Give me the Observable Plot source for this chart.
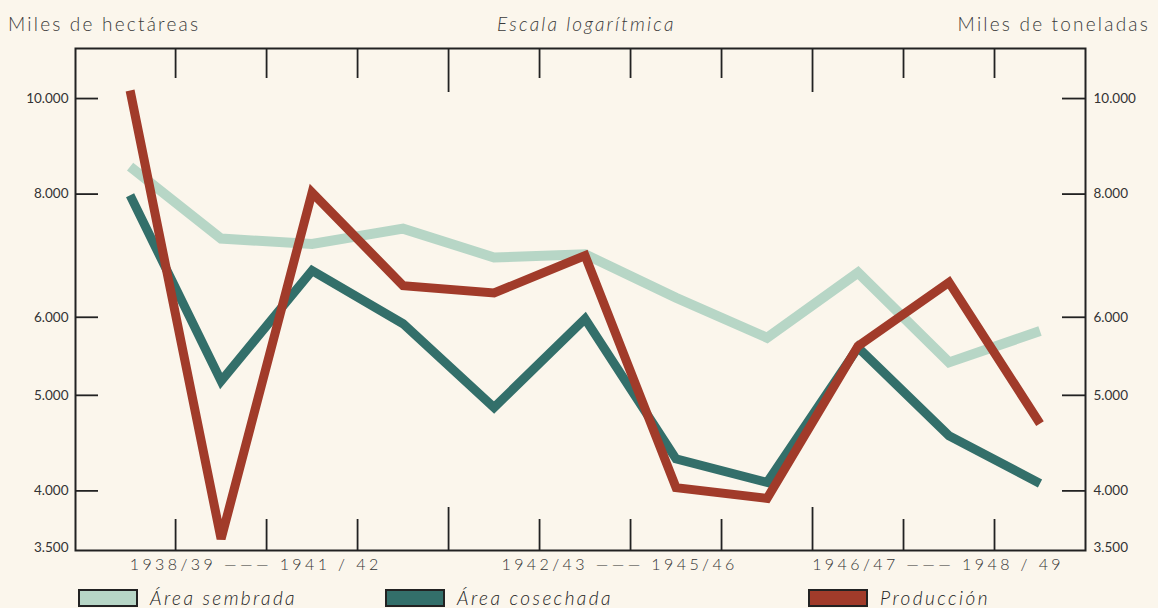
<!DOCTYPE html>
<html>
<head>
<meta charset="utf-8">
<script src="https://cdn.jsdelivr.net/npm/d3@7"></script>
<script src="https://cdn.jsdelivr.net/npm/@observablehq/plot@0.6"></script>
<style>
  html, body { margin: 0; padding: 0; background: #fbf6ec; }
  #page { position: relative; width: 1158px; height: 608px; overflow: hidden; background: #fbf6ec; font-family: Lato, "Open Sans", sans-serif; color: #333; }
  .hdr { position: absolute; top: 12px; font-size: 19px; letter-spacing: 2.2px; white-space: nowrap; color: #3a3a3a; font-weight: 300; }
  #chart { position: absolute; left: 0; top: 40px; }
  #chart svg g[aria-label="text"] text { font-size: 16px !important; letter-spacing: 3.4px; font-weight: 300; }
  .leg { position: absolute; top: 586px; display: flex; align-items: center; font-style: italic; font-size: 19px; letter-spacing: 2.4px; color: #222; font-weight: 300; }
  .sw { width: 56px; height: 14px; border: 2px solid #222; margin-right: 12px; }
</style>
</head>
<body>
<div id="page">
  <div class="hdr" style="left:8px">Miles de hectáreas</div>
  <div class="hdr" style="left:497px;font-style:italic">Escala logarítmica</div>
  <div class="hdr" style="right:8px">Miles de toneladas</div>
  <div id="chart"></div>
  <div id="legend"></div>
</div>
<script>
// Campaigns (index positions 0..10)
const years = ["1938/39","1939/40","1940/41","1941/42","1942/43","1943/44","1944/45","1945/46","1946/47","1947/48","1948/49"];
// Miles de hectáreas
const areaSembrada  = [8530, 7210, 7120, 7380, 6900, 6950, 6280, 5720, 6660, 5400, 5810];
const areaCosechada = [7980, 5170, 6690, 5910, 4860, 5980, 4310, 4080, 5590, 4550, 4070];
// Miles de toneladas
const produccion    = [10190, 3575, 8030, 6460, 6350, 6930, 4030, 3930, 5610, 6510, 4680];

const yTicks = [3500, 4000, 5000, 6000, 8000, 10000];
const groups = [
  {label: "1938/39 ——— 1941 / 42", first: 0, last: 3},
  {label: "1942/43 ——— 1945/46", first: 4, last: 7},
  {label: "1946/47 ——— 1948 / 49", first: 8, last: 10}
];
// group separators (long ticks) after the last index of each group but the final one
const separators = groups.slice(0, -1).map(g => g.last + 0.5);
const boundaries = d3.range(years.length - 1).map(i => i + 0.5).filter(b => !separators.includes(b));

const series = [
  {name: "Área sembrada", values: areaSembrada, color: "#b7d6c6", width: 10},
  {name: "Área cosechada", values: areaCosechada, color: "#336f6a", width: 9},
  {name: "Producción", values: produccion, color: "#a13b2a", width: 9}
];
const rows = series.flatMap(s => s.values.map((v, i) => ({serie: s.name, i, v})));

const fmt = d => d3.format(",")(d).replace(/,/g, ".");
const W = 1158, H = 538, mt = 8, mb = 28, ml = 75, mr = 73;
const frameH = H - mt - mb;

const plot = Plot.plot({
  width: W, height: H,
  marginTop: mt, marginBottom: mb, marginLeft: ml, marginRight: mr,
  style: {background: "transparent", fontFamily: "Lato, 'Open Sans', sans-serif"},
  x: {type: "linear", domain: [-0.6, 10.5], axis: null},
  y: {type: "log", domain: [3480, 11240], axis: null},
  marks: [
    Plot.axisY({anchor: "left", ticks: yTicks, tickFormat: fmt, tickSize: 0, tickPadding: 7, fontSize: 13.5, color: "#333", label: null}),
    Plot.axisY({anchor: "right", ticks: yTicks, tickFormat: fmt, tickSize: 0, tickPadding: 8, fontSize: 13.5, color: "#333", label: null}),
    // inward y ticks
    Plot.tickY(yTicks.slice(1), {y: d => d, insetRight: W - ml - mr - 23, stroke: "#222", strokeWidth: 1.8}),
    Plot.tickY(yTicks.slice(1), {y: d => d, insetLeft: W - ml - mr - 23, stroke: "#222", strokeWidth: 1.8}),
    // top and bottom x ticks
    Plot.tickX(boundaries, {x: d => d, insetBottom: frameH - 30, stroke: "#222", strokeWidth: 1.8}),
    Plot.tickX(separators, {x: d => d, insetBottom: frameH - 44, stroke: "#222", strokeWidth: 1.8}),
    Plot.tickX(boundaries, {x: d => d, insetTop: frameH - 31, stroke: "#222", strokeWidth: 1.8}),
    Plot.tickX(separators, {x: d => d, insetTop: frameH - 43, stroke: "#222", strokeWidth: 1.8}),
    Plot.frame({stroke: "#222", strokeWidth: 2}),
    ...series.map(s => Plot.lineY(rows.filter(r => r.serie === s.name), {
      x: "i", y: "v", stroke: s.color, strokeWidth: s.width,
      strokeLinejoin: "miter", strokeLinecap: "butt", strokeMiterlimit: 3
    })),
    Plot.text(groups, {
      x: g => (g.first + g.last) / 2 - 0.12, text: "label", frameAnchor: "bottom", dy: 19,
      fontSize: 16, fill: "#333"
    })
  ]
});
document.getElementById("chart").appendChild(plot);

// legend
const legendX = [78, 385, 808];
const leg = document.getElementById("legend");
series.forEach((s, k) => {
  const d = document.createElement("div");
  d.className = "leg";
  d.style.left = legendX[k] + "px";
  d.innerHTML = `<div class="sw" style="background:${s.color}"></div><span>${s.name}</span>`;
  leg.appendChild(d);
});
</script>
</body>
</html>
